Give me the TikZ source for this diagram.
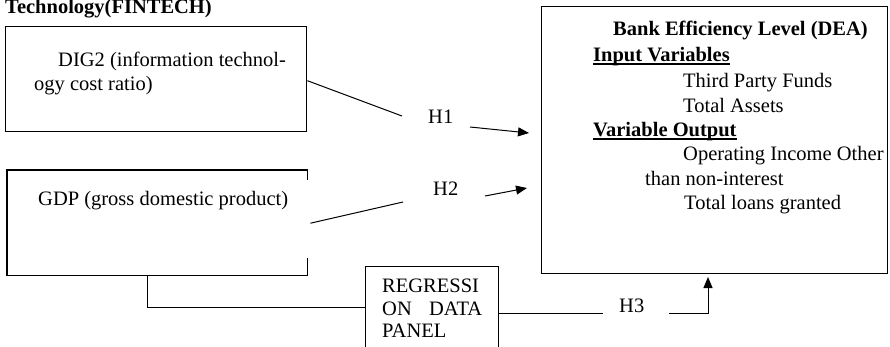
\documentclass[tikz,border=0pt]{standalone}
\usepackage{fontspec}
\setmainfont{Liberation Serif}
\usetikzlibrary{arrows.meta,positioning,calc}
\newsavebox{\ulbox}
\newcommand{\ulhead}[1]{\sbox{\ulbox}{\textbf{#1}}\rlap{\rule[-3.5pt]{\wd\ulbox}{1.6pt}}\usebox{\ulbox}}

\tikzset{
	box/.style={draw,line width=1.4pt,anchor=north west,inner sep=0pt},
	txt/.style={anchor=base west,inner sep=0pt,font=\fontsize{20.5}{24.5}\selectfont},
	conn/.style={line width=1pt},
	arr/.style={line width=1pt,-{Triangle[length=11pt,width=9pt]}}
}

\begin{document}
\begin{tikzpicture}[x=1pt,y=-1pt]
			\useasboundingbox (0,0) rectangle (890,346);
			\clip (0,0) rectangle (890,346);
			\node [txt] (title) at (5,13) {\textbf{Technology(FINTECH)}};
			% boxes
			\node [box,minimum width=301,minimum height=105] (dig) at (5,26) {};
			\node [anchor=north west,inner sep=0pt,minimum width=300,minimum height=105] (gdp) at (7,170) {};
			\draw [line width=1.4pt] ([yshift=-10pt]gdp.north east) |- (gdp.north west) -- (gdp.south west) -- (gdp.south east) -- ([yshift=17pt]gdp.south east);
			\node [box,minimum width=346,minimum height=267] (dea) at (541,6) {};
			\node [box,minimum width=133,minimum height=100] (reg) at (365,266) {};
			% texts
			\node [txt] (dig1) at (58,66) {DIG2 (information technol-};
			\node [txt] (dig2) at (34,90) {ogy cost ratio)};
			\node [txt] (gdp1) at (38,205) {GDP (gross domestic product)};
			\foreach \px/\py/\lbl [count=\i] in {613/35/{\textbf{Bank Efficiency Level (DEA)}},593/61/{\ulhead{Input Variables}},683/87/{Third Party Funds},683/112/{Total Assets},593/136/{\ulhead{Variable Output}},683/160/{Operating Income Other},645/185/{than non-interest},684/209/{Total loans granted}}
				\node [txt] (dea\i) at (\px,\py) {\lbl};
			\node [txt] (reg1) at (382,292) {REGRESSI};
			\node [txt] (reg2) at (382,315) {\makebox[100pt][s]{ON\hfill DATA}};
			\node [txt] (reg3) at (382,337) {PANEL};
			\node [txt] (h1) at (428,123) {H1};
			\node [txt] (h2) at (433,195) {H2};
			\node [txt] (h3) at (619,312) {H3};
			% connectors
			\coordinate (h1a) at (402,116);
			\coordinate (h1b) at (470,127);
			\coordinate (h1c) at (529,133);
			\coordinate (h2a) at (403,202);
			\coordinate (h2b) at (485,196);
			\coordinate (h2c) at (527,188);
			\coordinate (regin) at (365,307);
			\coordinate (regout) at (498,313);
			\coordinate (h3a) at (603,313);
			\coordinate (h3b) at (669,313);
			\coordinate (h3c) at (708,277);
			\draw [conn] ([yshift=-1.5pt]dig.east) -- (h1a);
			\draw [arr] (h1b) -- (h1c);
			\draw [conn] ([xshift=3pt,yshift=-0.5pt]gdp.east) -- (h2a);
			\draw [arr] (h2b) -- (h2c);
			\draw [conn] ([xshift=-10pt]gdp.south) |- (regin);
			\draw [conn] (regout) -- (h3a);
			\draw [arr] (h3b) -| (h3c);
			\end{tikzpicture}
\end{document}
